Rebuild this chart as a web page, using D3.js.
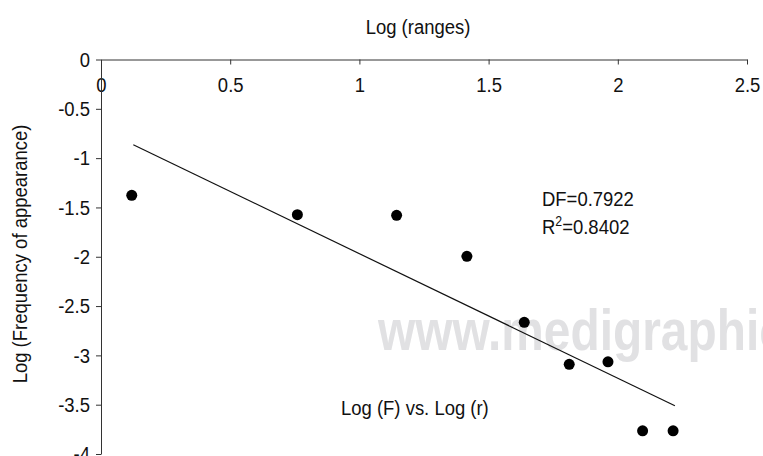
<!DOCTYPE html>
<html>
<head>
<meta charset="utf-8">
<script src="https://cdn.jsdelivr.net/npm/d3@7"></script>
<style>
  body { margin: 0; background: #fff; }
  svg { display: block; }
  text { font-family: "Liberation Sans", Arial, Helvetica, sans-serif; }
</style>
</head>
<body>
<div id="wrapper"></div>
<script>
// observed points, log(range) vs log(frequency)
let logRange = [0.119, 0.76, 1.144, 1.416, 1.638, 1.812, 1.962, 2.096, 2.214];
let logFreq = [-1.377, -1.574, -1.58, -1.996, -2.665, -3.091, -3.065, -3.765, -3.765];

// fitted line endpoints
let fitX = [0.125, 2.221];
let fitY = [-0.864, -3.511];

let xTicks = [0, 0.5, 1, 1.5, 2, 2.5];
let yTicks = [0, -0.5, -1, -1.5, -2, -2.5, -3, -3.5, -4];

const width = 763;
const height = 456;
const squeeze = 0.88; // narrow helvetica look

function drawChart() {
  let svg = d3
    .select("#wrapper")
    .append("svg")
    .attr("width", width)
    .attr("height", height);

  let x = d3.scaleLinear().domain([0, 2.5]).range([101, 747]);
  let y = d3.scaleLinear().domain([0, -4]).range([59.5, 454]);

  // watermark sits behind everything
  svg
    .append("text")
    .attr("transform", "translate(378, 350) scale(0.84, 1)")
    .attr("font-size", 57)
    .attr("font-weight", "bold")
    .attr("fill", "#e1e1e3")
    .text("www.medigraphic");

  let xAxis = svg
    .append("g")
    .attr("transform", `translate(0, ${y(0)})`)
    .call(
      d3
        .axisBottom(x)
        .tickValues(xTicks)
        .tickFormat(d => String(d))
        .tickSizeInner(5)
        .tickSizeOuter(0)
        .tickPadding(13)
    );

  let yAxis = svg
    .append("g")
    .attr("transform", `translate(${x(0)}, 0)`)
    .call(
      d3
        .axisLeft(y)
        .tickValues(yTicks)
        .tickFormat(d => String(d))
        .tickSizeInner(5)
        .tickSizeOuter(0)
        .tickPadding(7.5)
    );

  [xAxis, yAxis].forEach(ax => {
    ax.select(".domain").attr("stroke", "#333");
    ax.selectAll(".tick line").attr("stroke", "#333");
    ax.selectAll(".tick text")
      .attr("font-size", 21)
      .attr("fill", "#111")
      .attr("font-family", null)
      .attr("transform", `scale(${squeeze}, 1)`);
  });
  xAxis.attr("font-family", null);
  yAxis.attr("font-family", null);

  // regression line
  svg
    .append("line")
    .attr("x1", x(fitX[0]))
    .attr("y1", y(fitY[0]))
    .attr("x2", x(fitX[1]))
    .attr("y2", y(fitY[1]))
    .attr("stroke", "#111")
    .attr("stroke-width", 1.2);

  svg
    .selectAll("circle")
    .data(logRange.map((d, i) => ({ x: d, y: logFreq[i] })))
    .join("circle")
    .attr("cx", d => x(d.x))
    .attr("cy", d => y(d.y))
    .attr("r", 5.5)
    .attr("fill", "#000");

  // titles and notes
  svg
    .append("text")
    .attr("transform", `translate(418, 34) scale(${squeeze}, 1)`)
    .attr("text-anchor", "middle")
    .attr("font-size", 21)
    .attr("fill", "#111")
    .text("Log (ranges)");

  svg
    .append("text")
    .attr("transform", `translate(27, 254) rotate(-90) scale(${squeeze}, 1)`)
    .attr("text-anchor", "middle")
    .attr("font-size", 21)
    .attr("fill", "#111")
    .text("Log (Frequency of appearance)");

  svg
    .append("text")
    .attr("transform", `translate(341, 415) scale(${squeeze}, 1)`)
    .attr("font-size", 21)
    .attr("fill", "#111")
    .text("Log (F) vs. Log (r)");

  svg
    .append("text")
    .attr("transform", `translate(542, 206) scale(${squeeze}, 1)`)
    .attr("font-size", 21)
    .attr("fill", "#111")
    .text("DF=0.7922");

  let r2 = svg
    .append("text")
    .attr("transform", `translate(542, 234) scale(${squeeze}, 1)`)
    .attr("font-size", 21)
    .attr("fill", "#111");
  r2.append("tspan").text("R");
  r2.append("tspan").attr("font-size", 14).attr("dy", -8).text("2");
  r2.append("tspan").attr("dy", 8).text("=0.8402");
}
drawChart();
</script>
</body>
</html>
